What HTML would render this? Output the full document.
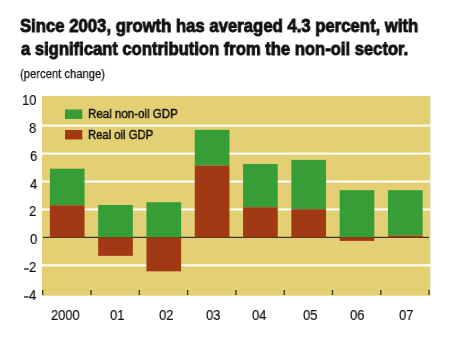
<!DOCTYPE html>
<html><head><meta charset="utf-8"><style>
html,body{margin:0;padding:0;background:#fff;width:450px;height:341px;overflow:hidden;position:relative;font-family:"Liberation Sans",sans-serif}
</style></head><body>
<svg width="450" height="341" style="position:absolute;left:0;top:0"><rect x="42.00" y="96.00" width="388.30" height="199.70" fill="#E4D074"/><rect x="42.00" y="124.64" width="388.30" height="2.00" fill="#FFFFFF"/><rect x="42.00" y="152.58" width="388.30" height="2.00" fill="#FFFFFF"/><rect x="42.00" y="180.52" width="388.30" height="2.00" fill="#FFFFFF"/><rect x="42.00" y="208.46" width="388.30" height="2.00" fill="#FFFFFF"/><rect x="42.00" y="264.34" width="388.30" height="2.00" fill="#FFFFFF"/><rect x="43.00" y="236.80" width="386.00" height="1.20" fill="#38362A"/><rect x="49.85" y="168.67" width="34.70" height="36.60" fill="#379E37"/><rect x="49.85" y="205.27" width="34.70" height="32.13" fill="#A13914"/><rect x="98.15" y="204.99" width="34.70" height="32.41" fill="#379E37"/><rect x="98.15" y="237.40" width="34.70" height="18.44" fill="#A13914"/><rect x="146.45" y="202.20" width="34.70" height="35.20" fill="#379E37"/><rect x="146.45" y="237.40" width="34.70" height="33.95" fill="#A13914"/><rect x="194.75" y="129.83" width="34.70" height="35.76" fill="#379E37"/><rect x="194.75" y="165.59" width="34.70" height="71.81" fill="#A13914"/><rect x="243.05" y="164.06" width="34.70" height="43.17" fill="#379E37"/><rect x="243.05" y="207.22" width="34.70" height="30.18" fill="#A13914"/><rect x="291.35" y="159.87" width="34.70" height="49.31" fill="#379E37"/><rect x="291.35" y="209.18" width="34.70" height="28.22" fill="#A13914"/><rect x="339.65" y="190.18" width="34.70" height="47.22" fill="#379E37"/><rect x="339.65" y="237.40" width="34.70" height="3.49" fill="#A13914"/><rect x="387.95" y="190.18" width="34.70" height="45.40" fill="#379E37"/><rect x="387.95" y="235.58" width="34.70" height="1.82" fill="#A13914"/><rect x="42.05" y="290.00" width="1.30" height="5.10" fill="#38362A"/><rect x="90.35" y="290.00" width="1.30" height="5.10" fill="#38362A"/><rect x="138.65" y="290.00" width="1.30" height="5.10" fill="#38362A"/><rect x="186.95" y="290.00" width="1.30" height="5.10" fill="#38362A"/><rect x="235.25" y="290.00" width="1.30" height="5.10" fill="#38362A"/><rect x="283.55" y="290.00" width="1.30" height="5.10" fill="#38362A"/><rect x="331.85" y="290.00" width="1.30" height="5.10" fill="#38362A"/><rect x="380.15" y="290.00" width="1.30" height="5.10" fill="#38362A"/><rect x="428.45" y="290.00" width="1.30" height="5.10" fill="#38362A"/><rect x="65.00" y="109.50" width="17.30" height="9.50" fill="#379E37"/><rect x="65.00" y="130.00" width="17.30" height="9.50" fill="#A13914"/><rect x="24.00" y="268.30" width="4.70" height="1.30" fill="#1a1a1a"/><rect x="24.00" y="296.30" width="4.70" height="1.30" fill="#1a1a1a"/></svg><div style="position:absolute;left:20.33px;top:17.30px;font-size:18.5px;line-height:18.5px;font-weight:bold;white-space:nowrap;color:#111;-webkit-text-stroke:0.9px #111;transform:scaleX(0.9029);transform-origin:0 0;will-change:transform">Since 2003, growth has averaged 4.3 percent, with</div><div style="position:absolute;left:20.56px;top:40.37px;font-size:18.5px;line-height:18.5px;font-weight:bold;white-space:nowrap;color:#111;-webkit-text-stroke:0.9px #111;transform:scaleX(0.8970);transform-origin:0 0;will-change:transform">a significant contribution from the non-oil sector.</div><div style="position:absolute;left:19.51px;top:66.61px;font-size:13.5px;line-height:13.5px;font-weight:normal;white-space:nowrap;color:#111;-webkit-text-stroke:0.25px #111;transform:scaleX(0.8333);transform-origin:0 0;will-change:transform">(percent change)</div><div style="position:absolute;left:88.26px;top:108.45px;font-size:12.8px;line-height:12.8px;font-weight:normal;white-space:nowrap;color:#111;-webkit-text-stroke:0.45px #111;transform:scaleX(0.9021);transform-origin:0 0;will-change:transform">Real non-oil GDP</div><div style="position:absolute;left:88.36px;top:129.46px;font-size:12.8px;line-height:12.8px;font-weight:normal;white-space:nowrap;color:#111;-webkit-text-stroke:0.45px #111;transform:scaleX(0.8808);transform-origin:0 0;will-change:transform">Real oil GDP</div><div style="position:absolute;left:22.32px;top:92.81px;font-size:14px;line-height:14px;font-weight:normal;white-space:nowrap;color:#111;-webkit-text-stroke:0.15px #111;transform:scaleX(0.9300);transform-origin:0 0;will-change:transform">10</div><div style="position:absolute;left:29.32px;top:120.67px;font-size:14px;line-height:14px;font-weight:normal;white-space:nowrap;color:#111;-webkit-text-stroke:0.15px #111;transform:scaleX(0.9300);transform-origin:0 0;will-change:transform">8</div><div style="position:absolute;left:29.67px;top:149.42px;font-size:14px;line-height:14px;font-weight:normal;white-space:nowrap;color:#111;-webkit-text-stroke:0.15px #111;transform:scaleX(0.9300);transform-origin:0 0;will-change:transform">6</div><div style="position:absolute;left:29.53px;top:176.77px;font-size:14px;line-height:14px;font-weight:normal;white-space:nowrap;color:#111;-webkit-text-stroke:0.15px #111;transform:scaleX(0.9300);transform-origin:0 0;will-change:transform">4</div><div style="position:absolute;left:29.09px;top:203.61px;font-size:14px;line-height:14px;font-weight:normal;white-space:nowrap;color:#111;-webkit-text-stroke:0.15px #111;transform:scaleX(0.9300);transform-origin:0 0;will-change:transform">2</div><div style="position:absolute;left:29.69px;top:232.47px;font-size:14px;line-height:14px;font-weight:normal;white-space:nowrap;color:#111;-webkit-text-stroke:0.15px #111;transform:scaleX(0.9300);transform-origin:0 0;will-change:transform">0</div><div style="position:absolute;left:29.09px;top:260.01px;font-size:14px;line-height:14px;font-weight:normal;white-space:nowrap;color:#111;-webkit-text-stroke:0.15px #111;transform:scaleX(0.9300);transform-origin:0 0;will-change:transform">2</div><div style="position:absolute;left:29.33px;top:287.57px;font-size:14px;line-height:14px;font-weight:normal;white-space:nowrap;color:#111;-webkit-text-stroke:0.15px #111;transform:scaleX(0.9300);transform-origin:0 0;will-change:transform">4</div><div style="position:absolute;left:51.33px;top:307.81px;font-size:14px;line-height:14px;font-weight:normal;white-space:nowrap;color:#111;-webkit-text-stroke:0.15px #111;transform:scaleX(0.9215);transform-origin:0 0;will-change:transform">2000</div><div style="position:absolute;left:110.14px;top:307.81px;font-size:14px;line-height:14px;font-weight:normal;white-space:nowrap;color:#111;-webkit-text-stroke:0.15px #111;transform:scaleX(0.9300);transform-origin:0 0;will-change:transform">01</div><div style="position:absolute;left:158.68px;top:307.81px;font-size:14px;line-height:14px;font-weight:normal;white-space:nowrap;color:#111;-webkit-text-stroke:0.15px #111;transform:scaleX(0.9300);transform-origin:0 0;will-change:transform">02</div><div style="position:absolute;left:205.76px;top:307.97px;font-size:14px;line-height:14px;font-weight:normal;white-space:nowrap;color:#111;-webkit-text-stroke:0.15px #111;transform:scaleX(0.9300);transform-origin:0 0;will-change:transform">03</div><div style="position:absolute;left:251.85px;top:307.97px;font-size:14px;line-height:14px;font-weight:normal;white-space:nowrap;color:#111;-webkit-text-stroke:0.15px #111;transform:scaleX(0.9300);transform-origin:0 0;will-change:transform">04</div><div style="position:absolute;left:302.99px;top:307.97px;font-size:14px;line-height:14px;font-weight:normal;white-space:nowrap;color:#111;-webkit-text-stroke:0.15px #111;transform:scaleX(0.9300);transform-origin:0 0;will-change:transform">05</div><div style="position:absolute;left:349.92px;top:307.97px;font-size:14px;line-height:14px;font-weight:normal;white-space:nowrap;color:#111;-webkit-text-stroke:0.15px #111;transform:scaleX(0.9300);transform-origin:0 0;will-change:transform">06</div><div style="position:absolute;left:398.98px;top:307.97px;font-size:14px;line-height:14px;font-weight:normal;white-space:nowrap;color:#111;-webkit-text-stroke:0.15px #111;transform:scaleX(0.9300);transform-origin:0 0;will-change:transform">07</div>
</body></html>
